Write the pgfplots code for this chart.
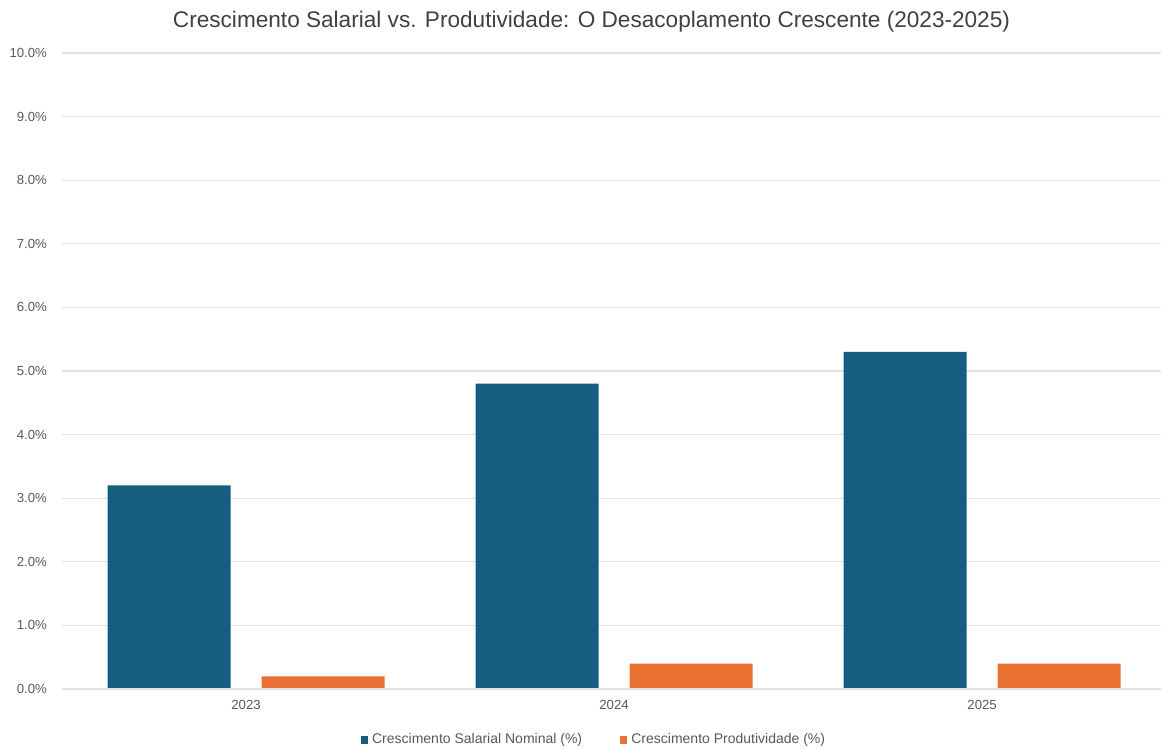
\documentclass[border=0pt]{standalone}
\usepackage{fontspec}
\setmainfont{Liberation Sans}
\usepackage{pgfplots}
\pgfplotsset{compat=1.18}
\definecolor{salario}{HTML}{165E80}
\definecolor{produt}{HTML}{E97132}
\definecolor{txtgray}{HTML}{595959}
\definecolor{titlegray}{HTML}{404040}
\definecolor{gridgray}{HTML}{E3E3E3}
\begin{document}
\begin{tikzpicture}
% fixed canvas, 1 px of the reference = 0.5pt
\path[use as bounding box] (0,0) rectangle (580.5pt,374.5pt);
\node[font=\fontsize{11.3}{13}\selectfont, text=titlegray] at (295.75pt,363.5pt)
  {Crescimento Salarial vs. Produtividade: O Desacoplamento Crescente (2023-2025)};
\begin{axis}[
  at={(31pt,30pt)}, anchor=south west,
  scale only axis, width=549.5pt, height=318pt,
  ybar, bar width=61.5pt,
  xmin=-0.5, xmax=2.486,
  ymin=0, ymax=10,
  xtick={0,1,2}, xticklabels={2023,2024,2025},
  ytick={0,1,...,10},
  yticklabel={\pgfmathprintnumber[fixed,fixed zerofill,precision=1]{\tick}\%},
  /pgf/number format/assume math mode=true,
  ticklabel style={font=\fontsize{6.6}{8}\selectfont, text=txtgray},
  yticklabel style={xshift=-4pt},
  xticklabel style={yshift=-2pt},
  major tick length=0pt,
  ymajorgrids, grid style={gridgray, line width=0.6pt},
  axis line style={draw=none},
  axis x line*=bottom, axis y line*=left,
  legend columns=2,
  legend style={at={(0.485,-0.0802)}, anchor=center, draw=none,
    font=\fontsize{7}{8}\selectfont, text=txtgray,
    /tikz/every even column/.append style={column sep=17pt}},
  legend image code/.code={\fill[#1] (0pt,-1.8pt) rectangle (3.6pt,1.8pt);},
]
\addplot[fill=salario, draw=none, bar shift=-38.5pt] coordinates {(0,3.2) (1,4.8) (2,5.3)};
\addplot[fill=produt, draw=none, bar shift=38.5pt] coordinates {(0,0.2) (1,0.4) (2,0.4)};
\draw[gridgray, line width=0.6pt] (axis cs:-0.5,0) -- (axis cs:2.486,0);
\legend{Crescimento Salarial Nominal (\%), Crescimento Produtividade (\%)}
\end{axis}
\end{tikzpicture}
\end{document}
